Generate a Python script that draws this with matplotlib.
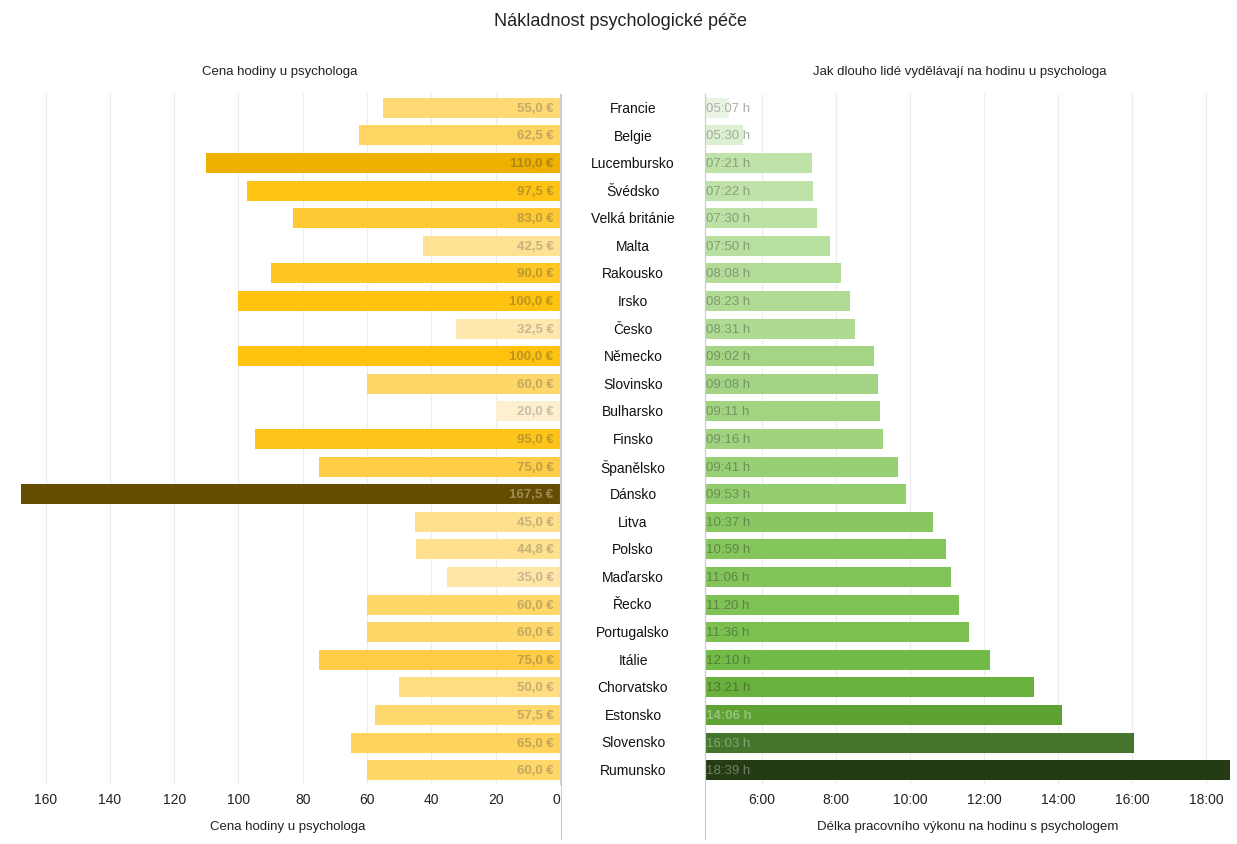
import numpy as np
import matplotlib.pyplot as plt
from matplotlib.colors import LinearSegmentedColormap, to_rgb

plt.rcParams['font.family'] = ['Liberation Sans', 'DejaVu Sans']

# data
countries = ['Francie', 'Belgie', 'Lucembursko', 'Švédsko', 'Velká británie', 'Malta',
             'Rakousko', 'Irsko', 'Česko', 'Německo', 'Slovinsko', 'Bulharsko', 'Finsko',
             'Španělsko', 'Dánsko', 'Litva', 'Polsko', 'Maďarsko', 'Řecko', 'Portugalsko',
             'Itálie', 'Chorvatsko', 'Estonsko', 'Slovensko', 'Rumunsko']
price = [55.0, 62.5, 110.0, 97.5, 83.0, 42.5, 90.0, 100.0, 32.5, 100.0, 60.0, 20.0, 95.0,
         75.0, 167.5, 45.0, 44.8, 35.0, 60.0, 60.0, 75.0, 50.0, 57.5, 65.0, 60.0]
work_time = ['05:07', '05:30', '07:21', '07:22', '07:30', '07:50', '08:08', '08:23', '08:31',
             '09:02', '09:08', '09:11', '09:16', '09:41', '09:53', '10:37', '10:59', '11:06',
             '11:20', '11:36', '12:10', '13:21', '14:06', '16:03', '18:39']
price_ticks = [0, 20, 40, 60, 80, 100, 120, 140, 160]
time_ticks = [6, 8, 10, 12, 14, 16, 18]

hours = np.array([int(t[:2]) + int(t[3:]) / 60 for t in work_time])
price = np.array(price)
y = np.arange(len(countries))

# barevne skaly
yel = LinearSegmentedColormap.from_list('yel', [
    (0.0, '#fdf0cf'), ((35 - 20) / 147.5, '#ffe6a6'), ((55 - 20) / 147.5, '#ffda73'),
    ((75 - 20) / 147.5, '#ffcc45'), ((100 - 20) / 147.5, '#ffc20e'),
    ((110 - 20) / 147.5, '#f0b000'), (1.0, '#664c00')])
grn = LinearSegmentedColormap.from_list('grn', [
    (0.0, '#e9f5e2'), ((5.5 - 5.12) / 13.53, '#ddefd2'), ((7.35 - 5.12) / 13.53, '#bee2a8'),
    ((8.5 - 5.12) / 13.53, '#aeda92'), ((9.9 - 5.12) / 13.53, '#93cd6e'),
    ((11.1 - 5.12) / 13.53, '#82c45a'), ((12.17 - 5.12) / 13.53, '#72bb46'),
    ((13.35 - 5.12) / 13.53, '#6ab03c'), ((14.1 - 5.12) / 13.53, '#5ea234'),
    ((16.05 - 5.12) / 13.53, '#43752a'), (1.0, '#243b14')])
pcol = [yel((v - price.min()) / (price.max() - price.min())) for v in price]
hcol = [grn((v - hours.min()) / (hours.max() - hours.min())) for v in hours]


def label_color(c, light, k=0.75):
    c = np.array(to_rgb(c))
    if light:
        return tuple(c + (1 - c) * 0.35)
    # ztmavit a trochu do sediva
    g = c.mean()
    return tuple((c * 0.8 + g * 0.2) * k)


fig = plt.figure(figsize=(12.37, 8.45), dpi=100)
W, H = 1237, 845
top, bot = 95, 785

axl = fig.add_axes([15 / W, 1 - bot / H, (560 - 15) / W, (bot - top) / H])
axr = fig.add_axes([705 / W, 1 - bot / H, (1231 - 705) / W, (bot - top) / H])

# leva cast
axl.barh(y, price, height=0.72, color=pcol, zorder=2)
axl.set_xlim(169.5, 0)
axl.set_ylim(len(y) - 0.5, -0.5)
for i, v in enumerate(price):
    txt = f'{v:.1f} €'.replace('.', ',')
    axl.text(2, i, txt, ha='right', va='center', fontsize=9.5, fontweight='bold',
             color=label_color(pcol[i], v > 140, 0.8), zorder=3)
axl.set_xticks(price_ticks)
axl.set_xticklabels([str(t) for t in price_ticks])
axl.set_xlabel('Cena hodiny u psychologa', fontsize=9.5, labelpad=10, color='#222222')
axl.set_yticks([])
axl.grid(axis='x', color='#ececec', lw=0.8, zorder=0)
for s in ['top', 'left', 'bottom']:
    axl.spines[s].set_visible(False)
axl.spines['right'].set_color('#cccccc')
axl.tick_params(axis='x', length=0, labelsize=10, pad=6, colors='#222222')
axl.get_xticklabels()[0].set_horizontalalignment('right')

# prava cast
xmin = 4.46
axr.barh(y, hours - xmin, left=xmin, height=0.72, color=hcol, zorder=2)
axr.set_xlim(xmin, 18.68)
axr.set_ylim(len(y) - 0.5, -0.5)
for i, v in enumerate(hours):
    light = v > 13.8
    axr.text(xmin + 0.03, i, work_time[i] + ' h', ha='left', va='center', fontsize=9.5,
             color=label_color(hcol[i], light, 0.72),
             fontweight='bold' if 13.8 < v < 14.5 else 'normal', zorder=3)
axr.set_xticks(time_ticks)
axr.set_xticklabels([f'{t}:00' for t in time_ticks])
axr.set_xlabel('Délka pracovního výkonu na hodinu s psychologem', fontsize=9.5,
               labelpad=10, color='#222222')
axr.set_yticks([])
axr.grid(axis='x', color='#ececec', lw=0.8, zorder=0)
for s in ['top', 'right', 'bottom']:
    axr.spines[s].set_visible(False)
axr.spines['left'].set_color('#cccccc')
axr.tick_params(axis='x', length=0, labelsize=10, pad=6, colors='#222222')

# svisle cary az dolu
for xp in [560.5, 705]:
    fig.add_artist(plt.Line2D([xp / W, xp / W], [1 - 95 / H, 1 - 840 / H], color='#cccccc', lw=0.8))

# nazvy zemi
for i, c in enumerate(countries):
    yy = 1 - (109 + i * (771 - 109) / 24) / H
    fig.text(633 / W, yy, c, ha='center', va='center', fontsize=10, color='#111111')

fig.text(620 / W, 1 - 22 / H, 'Nákladnost psychologické péče', ha='center', va='center',
         fontsize=13, color='#222222')
fig.text(280 / W, 1 - 72 / H, 'Cena hodiny u psychologa', ha='center', va='center',
         fontsize=9.5, color='#222222')
fig.text(960 / W, 1 - 72 / H, 'Jak dlouho lidé vydělávají na hodinu u psychologa',
         ha='center', va='center', fontsize=9.5, color='#222222')

fig.savefig('out.png', dpi=100)
